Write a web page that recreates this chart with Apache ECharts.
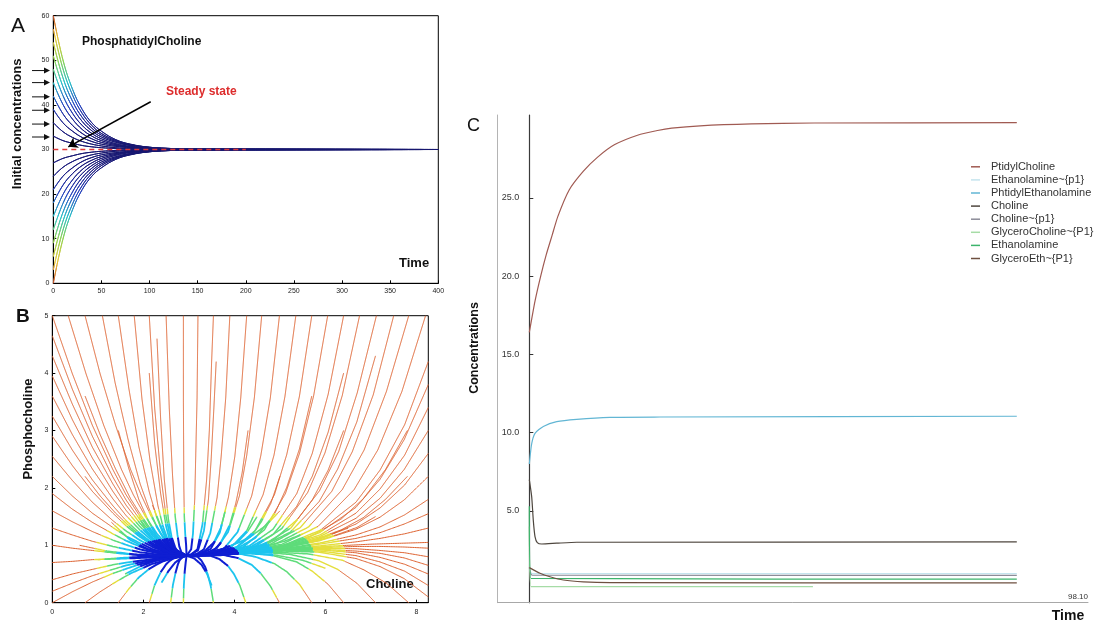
<!DOCTYPE html>
<html>
<head>
<meta charset="utf-8" />
<title>PtdCho dynamics</title>
<script src="https://cdn.jsdelivr.net/npm/echarts@6/dist/echarts.min.js"></script>
<style>
  html, body { margin: 0; padding: 0; background: #fff; }
  #main { width: 1096px; height: 623px; }
</style>
</head>
<body>
<div id="main"></div>
<script type="text/javascript">
// ---------- A : PhosphatidylCholine from several initial concentrations
var aTime = [0, 10, 20, 30, 40, 50, 65, 80, 100, 125, 150, 400];
var aAbove = [
  [60, 50.1, 43.5, 39.0, 36.0, 34.1, 32.2, 31.2, 30.5, 30.2, 30.1, 30],
  [57, 48.1, 42.2, 38.1, 35.4, 33.6, 32.0, 31.1, 30.5, 30.2, 30.1, 30],
  [54, 46.1, 40.8, 37.2, 34.8, 33.2, 31.8, 31.0, 30.4, 30.2, 30.1, 30],
  [51, 44.1, 39.5, 36.3, 34.2, 32.8, 31.6, 30.9, 30.4, 30.1, 30.1, 30],
  [48, 42.1, 38.1, 35.4, 33.6, 32.4, 31.3, 30.7, 30.3, 30.1, 30, 30],
  [45, 40.1, 36.8, 34.5, 33.0, 32.0, 31.1, 30.6, 30.3, 30.1, 30, 30],
  [42, 38.0, 35.4, 33.6, 32.4, 31.6, 30.9, 30.5, 30.2, 30.1, 30, 30],
  [39, 36.0, 34.1, 32.7, 31.8, 31.2, 30.7, 30.4, 30.2, 30.1, 30, 30],
  [36, 34.0, 32.7, 31.8, 31.2, 30.8, 30.4, 30.2, 30.1, 30, 30, 30],
  [33, 32.0, 31.4, 30.9, 30.6, 30.4, 30.2, 30.1, 30.1, 30, 30, 30]
];
var aBelow = [
  [0, 9.9, 16.5, 21.0, 24.0, 25.9, 27.8, 28.8, 29.5, 29.8, 29.9, 30],
  [3, 11.9, 17.8, 21.9, 24.6, 26.4, 28.0, 28.9, 29.5, 29.8, 29.9, 30],
  [6, 13.9, 19.2, 22.8, 25.2, 26.8, 28.2, 29.0, 29.6, 29.8, 29.9, 30],
  [9, 15.9, 20.5, 23.7, 25.8, 27.2, 28.4, 29.1, 29.6, 29.9, 29.9, 30],
  [12, 17.9, 21.9, 24.6, 26.4, 27.6, 28.7, 29.3, 29.7, 29.9, 30, 30],
  [15, 19.9, 23.2, 25.5, 27.0, 28.0, 28.9, 29.4, 29.7, 29.9, 30, 30],
  [18, 22.0, 24.6, 26.4, 27.6, 28.4, 29.1, 29.5, 29.8, 29.9, 30, 30],
  [21, 24.0, 25.9, 27.3, 28.2, 28.8, 29.3, 29.6, 29.8, 29.9, 30, 30],
  [24, 26.0, 27.3, 28.2, 28.8, 29.2, 29.6, 29.8, 29.9, 30, 30, 30],
  [27, 28.0, 28.6, 29.1, 29.4, 29.6, 29.8, 29.9, 29.9, 30, 30, 30]
];
var aSteadyLine = [[0, 30], [200, 30]];
var aSteadyArrow = [[101.2, 40.7], [15.6, 30.6]];
var aArrowLevels = [47.7, 45.0, 41.8, 38.8, 35.7, 32.8];

// ---------- B : phase plane Choline / Phosphocholine
var bFix = [2.95, 0.82];
var bTop = [
  [[3.54,5],[3.5,4.2],[3.45,3.0],[3.39,2.14],[3.3,1.37],[3.19,0.93],[3.05,0.84]],
  [[3.2,5],[3.18,3.56],[3.15,2.53],[3.13,1.82],[3.09,1.2],[3.05,0.93]],
  [[3.9,5],[3.81,3.57],[3.71,2.55],[3.62,1.83],[3.47,1.21],[3.33,0.93],[3.14,0.83]],
  [[4.27,5],[4.14,3.57],[4.01,2.55],[3.87,1.84],[3.68,1.22],[3.48,0.94],[3.21,0.83]],
  [[4.6,5],[4.44,3.58],[4.27,2.56],[4.11,1.86],[3.86,1.23],[3.61,0.95],[3.28,0.83]],
  [[4.99,5],[4.79,3.57],[4.58,2.56],[4.38,1.86],[4.07,1.23],[3.77,0.94],[3.36,0.83]],
  [[5.35,5],[5.11,3.59],[4.87,2.57],[4.63,1.88],[4.27,1.25],[3.91,0.95],[3.43,0.84]],
  [[5.7,5],[5.43,3.6],[5.15,2.58],[4.88,1.88],[4.46,1.26],[4.05,0.97],[3.5,0.84]],
  [[6.05,5],[5.74,3.6],[5.43,2.6],[5.12,1.9],[4.66,1.27],[4.19,0.97],[3.57,0.84]],
  [[6.4,5],[6.06,3.63],[5.71,2.6],[5.37,1.9],[4.85,1.28],[4.33,0.99],[3.64,0.85]],
  [[6.75,5],[6.37,3.61],[5.99,2.61],[5.61,1.92],[5.04,1.29],[4.47,0.99],[3.71,0.85]],
  [[7.12,5],[6.7,3.66],[6.29,2.63],[5.87,1.95],[5.24,1.3],[4.62,1.0],[3.78,0.85]],
  [[7.5,5],[7.05,3.62],[6.59,2.63],[6.14,1.94],[5.45,1.31],[4.77,1.01],[3.86,0.86]],
  [[7.83,5],[7.34,3.68],[6.85,2.66],[6.37,1.97],[5.63,1.32],[4.9,1.02],[3.93,0.86]],
  [[8.2,5],[7.68,3.68],[7.15,2.66],[6.63,1.97],[5.84,1.33],[5.05,1.02],[4.0,0.86]],
  [[0,5],[0.44,3.99],[0.88,3.09],[1.33,2.32],[1.62,1.88],[1.92,1.51],[2.21,1.2],[2.51,0.97]],
  [[0.35,5],[0.74,3.99],[1.13,3.09],[1.52,2.32],[1.78,1.88],[2.04,1.51],[2.3,1.2],[2.56,0.97]],
  [[0.72,5],[1.05,3.99],[1.39,3.09],[1.72,2.32],[1.95,1.88],[2.17,1.51],[2.39,1.2],[2.62,0.97]],
  [[1.1,5],[1.38,3.83],[1.66,2.86],[1.93,2.07],[2.12,1.65],[2.3,1.31],[2.49,1.06],[2.67,0.89]],
  [[1.45,5],[1.68,3.74],[1.9,2.72],[2.13,1.93],[2.28,1.52],[2.43,1.22],[2.58,1.0],[2.73,0.86]],
  [[1.8,5],[1.97,3.55],[2.15,2.46],[2.32,1.69],[2.43,1.33],[2.55,1.07],[2.66,0.91]],
  [[2.13,5],[2.25,3.38],[2.38,2.24],[2.5,1.5],[2.58,1.18],[2.66,0.98],[2.75,0.87]],
  [[2.5,5],[2.57,3.38],[2.64,2.24],[2.7,1.5],[2.75,1.18],[2.79,0.98],[2.84,0.87]],
  [[2.88,5],[2.88,3.5],[2.89,2.0],[2.9,1.5],[2.92,1.2],[2.94,1.0]]
];
var bRightEdge = [
  [[8.26,4.2],[7.74,3.1],[7.2,2.31],[6.67,1.75],[5.88,1.26],[5.08,1.0],[4.0,0.86]],
  [[8.26,3.8],[7.73,2.84],[7.2,2.15],[6.67,1.66],[5.87,1.22],[5.07,0.99],[4.01,0.86]],
  [[8.26,3.4],[7.74,2.57],[7.2,1.98],[6.67,1.56],[5.88,1.18],[5.08,0.98],[4.0,0.86]],
  [[8.26,3.0],[7.73,2.32],[7.2,1.82],[6.67,1.47],[5.87,1.15],[5.07,0.97],[4.01,0.86]],
  [[8.26,2.6],[7.74,2.05],[7.2,1.65],[6.67,1.37],[5.88,1.11],[5.08,0.96],[4.0,0.86]],
  [[8.26,2.2],[7.73,1.79],[7.2,1.49],[6.67,1.28],[5.87,1.08],[5.07,0.95],[4.01,0.86]],
  [[8.26,1.8],[7.74,1.53],[7.2,1.32],[6.67,1.18],[5.88,1.04],[5.08,0.94],[4.0,0.86]],
  [[8.26,1.55],[7.73,1.37],[7.2,1.22],[6.67,1.12],[5.87,1.02],[5.07,0.93],[4.01,0.86]],
  [[8.26,1.3],[7.74,1.2],[7.2,1.12],[6.67,1.06],[5.88,0.99],[5.08,0.93],[4.0,0.86]],
  [[8.26,1.05],[7,1.02],[6,0.98],[5,0.92],[4,0.86]],
  [[8.26,0.95],[7.73,0.97],[7.2,0.98],[6.67,0.98],[5.87,0.96],[5.07,0.92],[4.01,0.86]],
  [[8.26,0.8],[7.74,0.87],[7.2,0.91],[6.67,0.94],[5.88,0.95],[5.08,0.91],[4.0,0.85]],
  [[8.26,0.65],[7.73,0.78],[7.2,0.86],[6.67,0.9],[5.87,0.93],[5.07,0.91],[4.01,0.85]],
  [[8.26,0.5],[7.74,0.67],[7.2,0.79],[6.67,0.87],[5.88,0.92],[5.08,0.92],[4.0,0.85]],
  [[8.26,0.3],[7.74,0.55],[7.2,0.71],[6.67,0.82],[5.88,0.9],[5.08,0.91],[4.0,0.85]],
  [[8.26,0.1],[7.73,0.42],[7.2,0.63],[6.67,0.77],[5.87,0.88],[5.07,0.9],[4.01,0.85]]
];
var bLeftEdge = [
  [[0,4.65],[0.44,3.72],[0.88,2.9],[1.33,2.19],[1.62,1.79],[1.92,1.45],[2.21,1.17],[2.51,0.95]],
  [[0,4.3],[0.44,3.46],[0.88,2.71],[1.33,2.07],[1.62,1.7],[1.92,1.39],[2.21,1.13],[2.51,0.94]],
  [[0,3.95],[0.44,3.19],[0.88,2.52],[1.33,1.94],[1.62,1.61],[1.92,1.33],[2.21,1.1],[2.51,0.93]],
  [[0,3.6],[0.44,2.93],[0.88,2.33],[1.33,1.81],[1.62,1.52],[1.92,1.27],[2.21,1.07],[2.51,0.91]],
  [[0,3.25],[0.44,2.66],[0.88,2.14],[1.33,1.69],[1.62,1.43],[1.92,1.21],[2.21,1.03],[2.51,0.9]],
  [[0,2.9],[0.44,2.39],[0.88,1.94],[1.33,1.56],[1.62,1.34],[1.92,1.15],[2.21,1.0],[2.51,0.88]],
  [[0,2.55],[0.44,2.13],[0.88,1.75],[1.33,1.43],[1.62,1.25],[1.92,1.09],[2.21,0.97],[2.51,0.87]],
  [[0,2.2],[0.44,1.86],[0.88,1.56],[1.33,1.31],[1.62,1.16],[1.92,1.04],[2.21,0.93],[2.51,0.86]],
  [[0,1.9],[0.44,1.63],[0.88,1.4],[1.33,1.2],[1.62,1.08],[1.92,0.98],[2.21,0.9],[2.51,0.84]],
  [[0,1.6],[0.44,1.41],[0.88,1.24],[1.33,1.09],[1.62,1.01],[1.92,0.93],[2.21,0.88],[2.51,0.83]],
  [[0,1.3],[0.44,1.18],[0.88,1.07],[1.33,0.98],[1.62,0.93],[1.92,0.88],[2.21,0.85],[2.51,0.82]],
  [[0,1.0],[0.44,0.95],[0.88,0.91],[1.33,0.87],[1.62,0.85],[1.92,0.83],[2.21,0.82],[2.51,0.81]],
  [[0,0.7],[0.44,0.72],[0.88,0.75],[1.33,0.76],[1.62,0.77],[1.92,0.78],[2.21,0.79],[2.51,0.8]],
  [[0,0.4],[0.44,0.5],[0.88,0.58],[1.33,0.66],[1.62,0.7],[1.92,0.73],[2.21,0.76],[2.51,0.78]],
  [[0,0.2],[0.44,0.34],[0.88,0.47],[1.33,0.58],[1.62,0.65],[1.92,0.7],[2.21,0.74],[2.51,0.78]],
  [[0,0],[0.44,0.19],[0.88,0.36],[1.33,0.51],[1.62,0.59],[1.92,0.67],[2.21,0.72],[2.51,0.77]]
];
var bInterior = [
  [[6.4,3.0],[6.06,2.31],[5.71,1.79],[5.37,1.44],[4.85,1.09],[4.33,0.93],[3.64,0.84]],
  [[6.4,4.0],[6.06,2.97],[5.71,2.2],[5.37,1.68],[4.85,1.19],[4.33,0.96],[3.64,0.85]],
  [[7.8,3.0],[7.32,2.32],[6.83,1.81],[6.35,1.46],[5.62,1.13],[4.89,0.96],[3.92,0.86]],
  [[7.8,2.2],[7.32,1.8],[6.83,1.48],[6.35,1.27],[5.62,1.06],[4.89,0.93],[3.92,0.85]],
  [[5.0,2.2],[4.8,1.73],[4.59,1.41],[4.39,1.18],[4.08,0.98],[3.77,0.87],[3.36,0.83]],
  [[4.3,3.0],[4.17,2.26],[4.03,1.73],[3.9,1.36],[3.69,1.03],[3.49,0.87]],
  [[7.1,4.3],[6.69,3.15],[6.27,2.33],[5.86,1.76],[5.23,1.23],[4.61,0.98],[3.78,0.85]],
  [[5.7,3.6],[5.43,2.68],[5.15,2.01],[4.88,1.54],[4.46,1.13],[4.05,0.94],[3.5,0.84]],
  [[7.1,1.5],[6.69,1.31],[6.27,1.19],[5.86,1.09],[5.23,0.98],[4.61,0.91],[3.78,0.85]],
  [[3.6,4.2],[3.55,3.4],[3.49,2.5],[3.43,1.8],[3.33,1.25],[3.2,0.91],[3.05,0.84]],
  [[2.3,4.6],[2.38,3.2],[2.46,2.15],[2.55,1.45],[2.62,1.15],[2.7,0.96],[2.78,0.86]],
  [[0.72,3.6],[1.05,2.93],[1.39,2.33],[1.72,1.81],[1.95,1.52],[2.17,1.27],[2.39,1.07],[2.62,0.91]],
  [[0.72,2.2],[1.05,1.86],[1.39,1.56],[1.72,1.31],[1.95,1.16],[2.17,1.04],[2.39,0.93],[2.62,0.86]],
  [[1.45,3.0],[1.68,2.34],[1.9,1.8],[2.13,1.39],[2.28,1.18],[2.43,1.02],[2.58,0.9],[2.73,0.83]],
  [[2.13,4.0],[2.25,2.76],[2.38,1.9],[2.5,1.33],[2.58,1.09],[2.66,0.94],[2.75,0.85]]
];
var bBand = [
  [[1.3,1.4],[1.7,1.1],[2.1,0.93],[2.5,0.85]],
  [[1.6,0.5],[1.95,0.64],[2.3,0.74],[2.6,0.79]],
  [[1.0,0.75],[1.5,0.78],[2.0,0.8],[2.5,0.81]],
  [[2.2,1.7],[2.4,1.3],[2.58,1.02],[2.75,0.88]],
  [[1.9,1.5],[2.1,1.2],[2.35,0.98],[2.6,0.86]],
  [[0.6,1.0],[1.2,0.9],[1.8,0.84],[2.4,0.82]],
  [[3.8,1.6],[3.7,1.3],[3.55,1.05],[3.35,0.9],[3.15,0.84]],
  [[4.5,1.5],[4.3,1.25],[4.05,1.04],[3.7,0.92],[3.3,0.85]],
  [[5.0,1.6],[4.7,1.35],[4.3,1.12],[3.8,0.95],[3.3,0.85]],
  [[5.5,1.2],[5.1,1.07],[4.6,0.97],[4.0,0.9],[3.4,0.84]],
  [[6.5,1.3],[6.0,1.15],[5.4,1.03],[4.6,0.94],[3.8,0.87]],
  [[6.0,0.6],[5.5,0.74],[4.9,0.83],[4.2,0.86],[3.5,0.84]],
  [[3.5,0.3],[3.4,0.5],[3.28,0.66],[3.12,0.77]],
  [[2.4,0.35],[2.55,0.55],[2.7,0.7],[2.85,0.79]]
];
var bBottom = [
  [[7.83,0],[7.34,0.34],[6.85,0.57],[6.37,0.74],[5.63,0.85],[4.9,0.88],[3.93,0.85]],
  [[7.1,0],[6.69,0.34],[6.27,0.58],[5.86,0.73],[5.23,0.84],[4.61,0.88],[3.78,0.84]],
  [[6.4,0],[6.06,0.32],[5.71,0.55],[5.37,0.71],[4.85,0.82],[4.33,0.88],[3.64,0.84]],
  [[5.7,0],[5.43,0.32],[5.15,0.54],[4.88,0.68],[4.46,0.8],[4.05,0.86],[3.5,0.83]],
  [[4.99,0],[4.79,0.29],[4.58,0.51],[4.38,0.66],[4.07,0.78],[3.77,0.83],[3.36,0.82]],
  [[4.25,0],[4.12,0.3],[3.99,0.5],[3.86,0.64],[3.67,0.76],[3.47,0.82]],
  [[3.54,0],[3.48,0.29],[3.42,0.48],[3.36,0.62],[3.27,0.74],[3.19,0.8]],
  [[2.88,0],[2.89,0.3],[2.91,0.55],[2.93,0.7]],
  [[2.6,0],[2.65,0.31],[2.71,0.53],[2.76,0.67],[2.79,0.73],[2.83,0.77],[2.86,0.79]],
  [[2.13,0],[2.25,0.31],[2.38,0.53],[2.5,0.67],[2.58,0.73],[2.66,0.77],[2.75,0.79]],
  [[1.45,0],[1.68,0.24],[1.9,0.44],[2.13,0.59],[2.28,0.66],[2.43,0.72],[2.58,0.76],[2.73,0.79]],
  [[0.72,0],[1.05,0.19],[1.39,0.36],[1.72,0.51],[1.95,0.59],[2.17,0.67],[2.39,0.72],[2.62,0.77]]
];

// ---------- C : time courses
var cNames = ['PtidylCholine', 'Ethanolamine~{p1}', 'PhtidylEthanolamine', 'Choline',
  'Choline~{p1}', 'GlyceroCholine~{P1}', 'Ethanolamine', 'GlyceroEth~{P1}'];
var cColors = ['#a05a52', '#c4e4ee', '#62b6d4', '#4e463e', '#8c8c98', '#a6dca6', '#3cb46c', '#6e5040'];
var cPtidylCholine = [[0,16.4],[1,18.4],[2,20.0],[3,21.4],[4,22.6],[5,23.8],[7,25.5],[9.5,26.7],[12,27.6],
  [15,28.4],[19,29.0],[22.5,29.3],[25,29.45],[30,29.6],[39,29.72],[50,29.78],[85.6,29.8]];
var cEthanolamineP1 = [[0,1.3],[0.5,1.0],[85.6,1.0]];
var cPhtidylEth = [[0,8.0],[0.42,9.3],[1.0,9.96],[2.46,10.4],[4.81,10.7],[8.32,10.85],[14.17,10.98],[22.95,11.0],[85.6,11.05]];
var cCholine = [[0,7.0],[0.42,5.9],[0.7,4.4],[1.0,3.36],[1.4,2.98],[2.18,2.89],[4.81,2.94],[8.32,3.0],[85.6,3.02]];
var cCholineP1 = [[0,1.4],[0.5,0.9],[85.6,0.88]];
var cGlyceroCholine = [[0,4.0],[0.3,0.17],[49.8,0.17]];
var cEthanolamine = [[0,5.3],[0.3,0.7],[85.6,0.64]];
var cGlyceroEth = [[0,1.38],[1.88,1.02],[3.63,0.8],[5.97,0.59],[9.48,0.47],[14.17,0.42],[85.6,0.40]];
var cSeries = [cPtidylCholine, cEthanolamineP1, cPhtidylEth, cCholine, cCholineP1, cGlyceroCholine, cEthanolamine, cGlyceroEth];
var cYTicks = [5, 10, 15, 20, 25];
var cTimeEnd = 98.1;

var FONT = 'Liberation Sans, Arial, sans-serif';
var chart = echarts.init(document.getElementById('main'));
var series = [];

// A curves, coloured by value through the visualMap
aAbove.concat(aBelow).forEach(function (vals) {
  series.push({
    type: 'line', xAxisIndex: 0, yAxisIndex: 0, smooth: 0.4, showSymbol: false, silent: true,
    lineStyle: { width: 1 },
    data: aTime.map(function (t, i) { return [t, vals[i]]; })
  });
});
var aCount = series.length;
series.push({
  type: 'line', xAxisIndex: 0, yAxisIndex: 0, showSymbol: false, silent: true, z: 5,
  lineStyle: { color: '#e03a3a', width: 1.5, type: [5, 4] },
  data: aSteadyLine,
  markLine: {
    silent: true, symbol: ['none', 'arrow'], symbolSize: 9,
    lineStyle: { color: '#000', width: 1.5, type: 'solid' },
    label: { show: false },
    data: [[{ coord: aSteadyArrow[0] }, { coord: aSteadyArrow[1] }]]
  }
});

// B trajectories: split each one into colour stages (elliptic zones round the fixed point)
var bPalette = ['#0f1ed2', '#1cc4ee', '#5edc7a', '#e4de3c', '#dd6230'];
var bWidth = [2.0, 1.8, 1.5, 1.4, 1.0];
var bZonesRight = [[1.15, 0.3], [1.9, 0.6], [2.8, 0.8], [3.5, 0.88]];
var bZonesLeft = [[1.25, 0.32], [1.55, 0.58], [1.8, 0.74], [2.05, 0.84]];
function bStage(x, y) {
  var dx = x - bFix[0], dy = y - bFix[1];
  var zones = dx < 0 ? bZonesLeft : bZonesRight;
  for (var i = 0; i < zones.length; i++) {
    var u = dx / zones[i][0], v = dy / zones[i][1];
    if (u * u + v * v < 1) return i;
  }
  return 4;
}
var bPieces = [[], [], [], [], []];
bTop.concat(bRightEdge, bLeftEdge, bInterior, bBand, bBottom).forEach(function (tr) {
  var pts = tr.concat([bFix]);
  var cur = null, curStage = -1;
  for (var i = 0; i < pts.length - 1; i++) {
    var a = pts[i], b = pts[i + 1];
    var n = Math.max(1, Math.ceil(Math.hypot(b[0] - a[0], (b[1] - a[1]) * 3.5) / 0.04));
    for (var k = 0; k < n; k++) {
      var p0 = [a[0] + (b[0] - a[0]) * k / n, a[1] + (b[1] - a[1]) * k / n];
      var p1 = [a[0] + (b[0] - a[0]) * (k + 1) / n, a[1] + (b[1] - a[1]) * (k + 1) / n];
      var s = bStage((p0[0] + p1[0]) / 2, (p0[1] + p1[1]) / 2);
      if (s !== curStage) { cur = [p0]; bPieces[s].push(cur); curStage = s; }
      cur.push(p1);
    }
  }
});
var bLines = [];
for (var s = 4; s >= 0; s--) {
  bPieces[s].forEach(function (c) {
    bLines.push({ coords: c, lineStyle: { color: bPalette[s], width: bWidth[s] } });
  });
}
series.push({
  type: 'lines', coordinateSystem: 'cartesian2d', xAxisIndex: 1, yAxisIndex: 1,
  polyline: true, silent: true, lineStyle: { width: 1, opacity: 1 }, data: bLines
});

// C time courses
cSeries.forEach(function (d, i) {
  series.push({
    name: cNames[i], type: 'line', xAxisIndex: 2, yAxisIndex: 2, smooth: 0.2,
    showSymbol: false, silent: true, color: cColors[i],
    lineStyle: { width: 1.2, color: cColors[i] }, data: d
  });
});

function tinyAxis(extra) {
  var base = {
    axisLine: { lineStyle: { color: '#000', width: 1 } },
    axisTick: { inside: true, length: 3, lineStyle: { color: '#000' } },
    axisLabel: { fontSize: 7, color: '#222', fontFamily: FONT, margin: 4 },
    splitLine: { show: false }
  };
  return Object.assign(base, extra);
}

var txt = function (text, x, y, font, color, align, rot) {
  return {
    type: 'text', x: x, y: y, rotation: rot || 0, silent: true,
    style: { text: text, font: font, fill: color || '#111', textAlign: align || 'left', textVerticalAlign: 'middle' }
  };
};

var option = {
  backgroundColor: '#fff',
  animation: false,
  grid: [
    { left: 53.3, top: 15.7, width: 385, height: 267.6, show: true, borderColor: '#000', borderWidth: 1 },
    { left: 52.3, top: 315.7, width: 376, height: 287, show: true, borderColor: '#000', borderWidth: 1 },
    { left: 497.7, top: 115, width: 590.3, height: 487.7 }
  ],
  xAxis: [
    tinyAxis({ type: 'value', gridIndex: 0, min: 0, max: 400, interval: 50 }),
    tinyAxis({ type: 'value', gridIndex: 1, min: 0, max: 8.26,
      axisTick: { inside: true, length: 3, customValues: [0, 2, 4, 6, 8] },
      axisLabel: { fontSize: 7, color: '#222', fontFamily: FONT, margin: 6, customValues: [0, 2, 4, 6, 8] } }),
    { type: 'value', gridIndex: 2, min: -5.55, max: cTimeEnd,
      axisLine: { onZero: false, lineStyle: { color: '#a8a8a8', width: 1 } },
      axisTick: { show: false }, splitLine: { show: false },
      axisLabel: { customValues: [cTimeEnd], formatter: function (v) { return v.toFixed(2); },
        align: 'right', verticalAlign: 'bottom', margin: -2, fontSize: 8, color: '#333', fontFamily: FONT } }
  ],
  yAxis: [
    tinyAxis({ type: 'value', gridIndex: 0, min: 0, max: 60, interval: 10 }),
    tinyAxis({ type: 'value', gridIndex: 1, min: 0, max: 5, interval: 1 }),
    { type: 'value', gridIndex: 2, min: -0.86, max: 30.29, position: 'left', offset: -31.6,
      axisLine: { onZero: false, lineStyle: { color: '#3a3a3a', width: 1.2 } },
      axisTick: { inside: true, length: 4, customValues: cYTicks, lineStyle: { color: '#333' } },
      axisLabel: { customValues: cYTicks, formatter: function (v) { return v.toFixed(1); },
        fontSize: 9, color: '#333', fontFamily: FONT, margin: 10 },
      splitLine: { show: false } },
    { type: 'value', gridIndex: 2, min: -0.86, max: 30.29, position: 'left',
      axisLine: { onZero: false, lineStyle: { color: '#b4b4b4', width: 1 } },
      axisTick: { show: false }, axisLabel: { show: false }, splitLine: { show: false } }
  ],
  visualMap: {
    type: 'continuous', show: false, dimension: 1, min: 0, max: 60,
    seriesIndex: Array.from({ length: aCount }, function (_, i) { return i; }),
    inRange: { color: ['#c8502a', '#e6c83c', '#8ed250', '#28c0c8', '#2846c0', '#1a1a80', '#16166e',
      '#1a1a80', '#2846c0', '#28c0c8', '#8ed250', '#e6c83c', '#c8502a'] }
  },
  legend: {
    data: cNames, orient: 'vertical', left: 966, top: 156, icon: 'rect',
    itemWidth: 9, itemHeight: 1.5, itemGap: 1.5, selectedMode: false,
    textStyle: { fontSize: 11, color: '#333', fontFamily: FONT, lineHeight: 11.6, padding: [0, 0, 0, 6] }
  },
  series: series,
  graphic: [
    txt('A', 11, 26, '21px ' + FONT, '#111'),
    txt('B', 16, 317, 'bold 19px ' + FONT, '#111'),
    txt('C', 467, 126, '18px ' + FONT, '#111'),
    txt('PhosphatidylCholine', 82, 42, 'bold 12px ' + FONT, '#111'),
    txt('Steady state', 166, 92, 'bold 12px ' + FONT, '#dd2c2c'),
    txt('Time', 399, 263, 'bold 13px ' + FONT, '#111'),
    txt('Choline', 366, 584, 'bold 13px ' + FONT, '#111'),
    txt('Time', 1068, 616, 'bold 14px ' + FONT, '#111', 'center'),
    txt('Initial concentrations', 17, 124, 'bold 13px ' + FONT, '#111', 'center', Math.PI / 2),
    txt('Phosphocholine', 28, 429, 'bold 13px ' + FONT, '#111', 'center', Math.PI / 2),
    txt('Concentrations', 475, 348, 'bold 12.5px ' + FONT, '#111', 'center', Math.PI / 2)
  ]
};
chart.setOption(option);

// small arrows pointing at initial values in A
var arrows = [];
aArrowLevels.forEach(function (v) {
  var py = chart.convertToPixel({ gridIndex: 0 }, [0, v])[1];
  arrows.push({ type: 'line', silent: true, shape: { x1: 32, y1: py, x2: 46, y2: py }, style: { stroke: '#111', lineWidth: 1 } });
  arrows.push({ type: 'polygon', silent: true, shape: { points: [[50, py], [44, py - 3], [44, py + 3]] }, style: { fill: '#111' } });
});
chart.setOption({ graphic: option.graphic.concat(arrows) });
</script>
</body>
</html>
